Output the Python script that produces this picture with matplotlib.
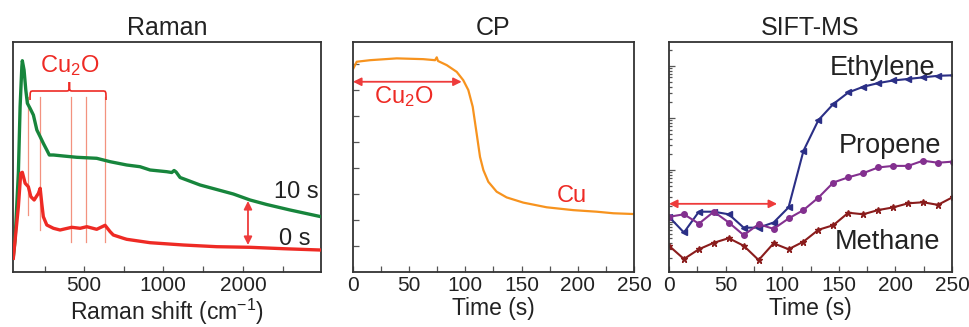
import numpy as np
import matplotlib
matplotlib.use("Agg")
import matplotlib.pyplot as plt
from matplotlib.path import Path
from matplotlib.patches import PathPatch

plt.rcParams['font.family'] = ['Liberation Sans', 'DejaVu Sans']
plt.rcParams['mathtext.default'] = 'regular'

# ---------------- data ----------------
# Raman (x in cm^-1, y arbitrary intensity)
raman_x_10s = [52, 63, 84, 95, 106, 109, 120, 131, 141, 158, 179, 201, 222, 242, 264, 280, 306, 369,
               454, 580, 665, 770, 854, 918, 1046, 1109, 1138, 1163, 1213, 1463, 1879, 2088, 2296,
               2588, 2963]
raman_y_10s = [1.53, 3.2, 9.9, 16.53, 20.53, 21.13, 20.2, 18.2, 16.87, 16.37, 15.7, 14.2, 13.53, 12.87,
               12.2, 11.7, 11.7, 11.6, 11.47, 11.37, 11.03, 10.7, 10.53, 10.2, 10.03, 9.95, 10.15,
               10.0, 9.45, 8.7, 7.8, 7.2, 6.75, 6.2, 5.55]
raman_x_0s = [52, 84, 99, 109, 127, 147, 163, 184, 211, 222, 232, 242, 264, 306, 348, 422, 475, 517,
              580, 633, 665, 685, 749, 770, 918, 1254, 1671, 2088, 2504, 2963]
raman_y_0s = [1.37, 6.53, 9.87, 9.97, 8.87, 8.53, 7.53, 7.2, 7.87, 8.37, 6.87, 5.53, 4.7, 4.37, 4.2,
              4.47, 4.37, 4.53, 4.27, 4.67, 4.03, 3.7, 3.37, 3.27, 2.93, 2.7, 2.53, 2.47, 2.33, 2.2]
cu2o_lines = [147, 220, 415, 512, 635]
cu2o_line_top = [17.5, 17.5, 17.5, 17.5, 17.5]
cu2o_line_bottom = [5.7, 4.2, 3.05, 3.05, 3.05]
raman_ticks = [500, 1000, 2000]
raman_minor = [250, 750, 1500, 2500]

# CP
cp_t = [0.3, 3.3, 15.1, 38.9, 62.5, 73, 74.5, 75.6, 83.4, 92.3, 98.1, 102.6, 106.5, 110, 113, 116,
        120.4, 127.8, 136.7, 151.5, 172.3, 196, 216.8, 231.6, 250]
cp_v = [7.83, 8.09, 8.15, 8.22, 8.19, 8.15, 8.26, 8.12, 7.96, 7.70, 7.38, 7.0, 6.36, 5.33, 4.43,
        3.92, 3.47, 3.09, 2.87, 2.67, 2.49, 2.38, 2.32, 2.26, 2.23]

# SIFT-MS
sift_t = [0, 13.2, 26.4, 39.6, 52.8, 66, 79.2, 92.4, 105.6, 118.8, 132, 145.2, 158.4, 171.6,
          184.8, 198, 211.2, 224.4, 237.6, 250.8]
ethylene = [1.26, 0.63, 1.58, 1.58, 1.41, 0.78, 0.78, 0.98, 1.91, 23.4, 91, 186, 309, 398, 468,
            525, 562, 603, 646, 661]
propene = [1.26, 1.41, 0.93, 1.58, 0.98, 0.56, 0.91, 0.74, 1.17, 1.70, 2.95, 5.75, 7.24, 8.71,
           11.2, 12.0, 12.0, 15.1, 13.8, 14.5]
methane = [0.35, 0.195, 0.30, 0.40, 0.49, 0.35, 0.186, 0.39, 0.30, 0.42, 0.71, 0.87, 1.51, 1.41,
           1.70, 1.91, 2.29, 2.40, 2.14, 3.02]
time_ticks = [0, 50, 100, 150, 200, 250]
time_minor = [25, 75, 125, 175, 225]

# ---------------- style ----------------
GREEN = '#17853c'
RED = '#ee2a24'
ARROW = '#ee3b3b'
LINE_RED = '#f3927f'
ORANGE = '#f7931e'
NAVY = '#2b2f86'
PURPLE = '#83308f'
DRED = '#8a1c1c'
SPINE = '#333333'
TXT = '#222222'
FS_TICK = 15
FS_TITLE = 18
FS_LABEL = 16.5
FS_ANN = 17
FS_GAS = 19.5

W, H = 970, 327
fig = plt.figure(figsize=(W / 100, H / 100), dpi=100)

def box(l, r, t=42, b=272):
    return [l / W, 1 - b / H, (r - l) / W, (b - t) / H]

def style(ax):
    for s in ax.spines.values():
        s.set_color(SPINE)
        s.set_linewidth(1.3)
    ax.tick_params(which='both', direction='in', colors='#555555', labelcolor=TXT,
                   labelsize=FS_TICK, top=False, right=False, pad=3)
    ax.tick_params(which='major', length=4, width=0.9)
    ax.tick_params(which='minor', length=4, width=0.9)

arrow_props = dict(arrowstyle='<|-|>', color=ARROW, lw=1.3, mutation_scale=12, shrinkA=0, shrinkB=0)

# ---- Raman ----
ax1 = fig.add_axes(box(13, 321))
cm_k = [-10000, 0, 1000, 2000, 3000, 20000]
px_k = [5 - 1580, 5, 163, 243, 323, 323 + 1360]
fwd = lambda x: np.interp(x, cm_k, px_k)
inv = lambda p: np.interp(p, px_k, cm_k)
ax1.set_xscale('function', functions=(fwd, inv))
ax1.set_xlim(50, 2975)
ax1.set_ylim(0, 23)
style(ax1)
ax1.set_xticks(raman_ticks)
ax1.set_xticks(raman_minor, minor=True)
ax1.set_xticklabels([str(v) for v in raman_ticks])
ax1.set_yticks([])
for x, yt, yb in zip(cu2o_lines, cu2o_line_top, cu2o_line_bottom):
    ax1.plot([x, x], [yb, yt], color=LINE_RED, lw=0.9, zorder=1)
ax1.plot(raman_x_10s, raman_y_10s, color=GREEN, lw=2.4, zorder=3)
ax1.plot(raman_x_0s, raman_y_0s, color=RED, lw=2.4, zorder=3)
# brace
bl, bc, br = 158, 407, 639
yb0, yb1, yb2 = 17.2, 18.1, 19.0
verts = [(bl, yb0), (bl, yb1), (bl, yb1), (180, yb1), (385, yb1), (bc, yb1), (bc, yb1), (bc, yb2),
         (bc, yb1), (bc, yb1), (430, yb1), (617, yb1), (br, yb1), (br, yb1), (br, yb0)]
codes = [Path.MOVETO, Path.CURVE4, Path.CURVE4, Path.CURVE4, Path.LINETO, Path.CURVE4, Path.CURVE4,
         Path.CURVE4, Path.CURVE4, Path.CURVE4, Path.CURVE4, Path.LINETO, Path.CURVE4, Path.CURVE4,
         Path.CURVE4]
ax1.add_patch(PathPatch(Path(verts, codes), fill=False, edgecolor=RED, lw=1.2))
ax1.text(407, 20.03, 'Cu$_2$O', color=RED, fontsize=FS_ANN, ha='center', va='baseline')
ax1.text(2945, 7.37, '10 s', color=TXT, fontsize=FS_ANN, ha='right', va='baseline')
ax1.text(2845, 2.7, '0 s', color=TXT, fontsize=FS_ANN, ha='right', va='baseline')
ax1.annotate('', xy=(2062, 7.1), xytext=(2062, 2.7), arrowprops=arrow_props)
ax1.set_title('Raman', fontsize=FS_TITLE, color=TXT, pad=5)
ax1.set_xlabel('Raman shift (cm$^{-1}$)', fontsize=FS_LABEL, color=TXT, labelpad=1)

# ---- CP ----
ax2 = fig.add_axes(box(353, 634))
ax2.set_xlim(0, 250)
ax2.set_ylim(0, 8.85)
style(ax2)
ax2.set_xticks(time_ticks)
ax2.set_xticks(time_minor, minor=True)
ax2.set_yticks([1, 2, 3, 4, 5, 6, 7, 8])
ax2.set_yticklabels([])
ax2.plot(cp_t, cp_v, color=ORANGE, lw=1.6)
ax2.annotate('', xy=(0, 7.32), xytext=(96.7, 7.32), arrowprops=arrow_props)
ax2.text(44.8, 6.49, 'Cu$_2$O', color=RED, fontsize=FS_ANN, ha='center', va='baseline')
ax2.text(195, 2.70, 'Cu', color=RED, fontsize=FS_ANN, ha='center', va='baseline')
ax2.set_title('CP', fontsize=FS_TITLE, color=TXT, pad=5)
ax2.set_xlabel('Time (s)', fontsize=FS_LABEL, color=TXT, labelpad=1)

# ---- SIFT-MS ----
ax3 = fig.add_axes(box(669, 952))
ax3.set_yscale('log')
ax3.set_xlim(0, 250)
ax3.set_ylim(10 ** -0.96, 10 ** 3.46)
style(ax3)
ax3.tick_params(axis='y', which='minor', length=2)
ax3.set_xticks(time_ticks)
ax3.set_xticks(time_minor, minor=True)
ax3.yaxis.set_major_formatter(matplotlib.ticker.NullFormatter())
ax3.yaxis.set_minor_formatter(matplotlib.ticker.NullFormatter())
ax3.plot(sift_t, ethylene, color=NAVY, lw=1.5, marker='<', ms=4)
ax3.plot(sift_t, propene, color=PURPLE, lw=1.5, marker='o', ms=4)
ax3.plot(sift_t, methane, color=DRED, lw=1.5, marker='*', ms=5)
ax3.annotate('', xy=(0, 2.24), xytext=(95.5, 2.24), arrowprops=arrow_props)
ax3.text(189, 673, 'Ethylene', color=TXT, fontsize=FS_GAS, ha='center', va='baseline')
ax3.text(195, 21.5, 'Propene', color=TXT, fontsize=FS_GAS, ha='center', va='baseline')
ax3.text(192.6, 0.31, 'Methane', color=TXT, fontsize=FS_GAS, ha='center', va='baseline')
ax3.set_title('SIFT-MS', fontsize=FS_TITLE, color=TXT, pad=5)
ax3.set_xlabel('Time (s)', fontsize=FS_LABEL, color=TXT, labelpad=1)

fig.savefig('out.png', dpi=100)
